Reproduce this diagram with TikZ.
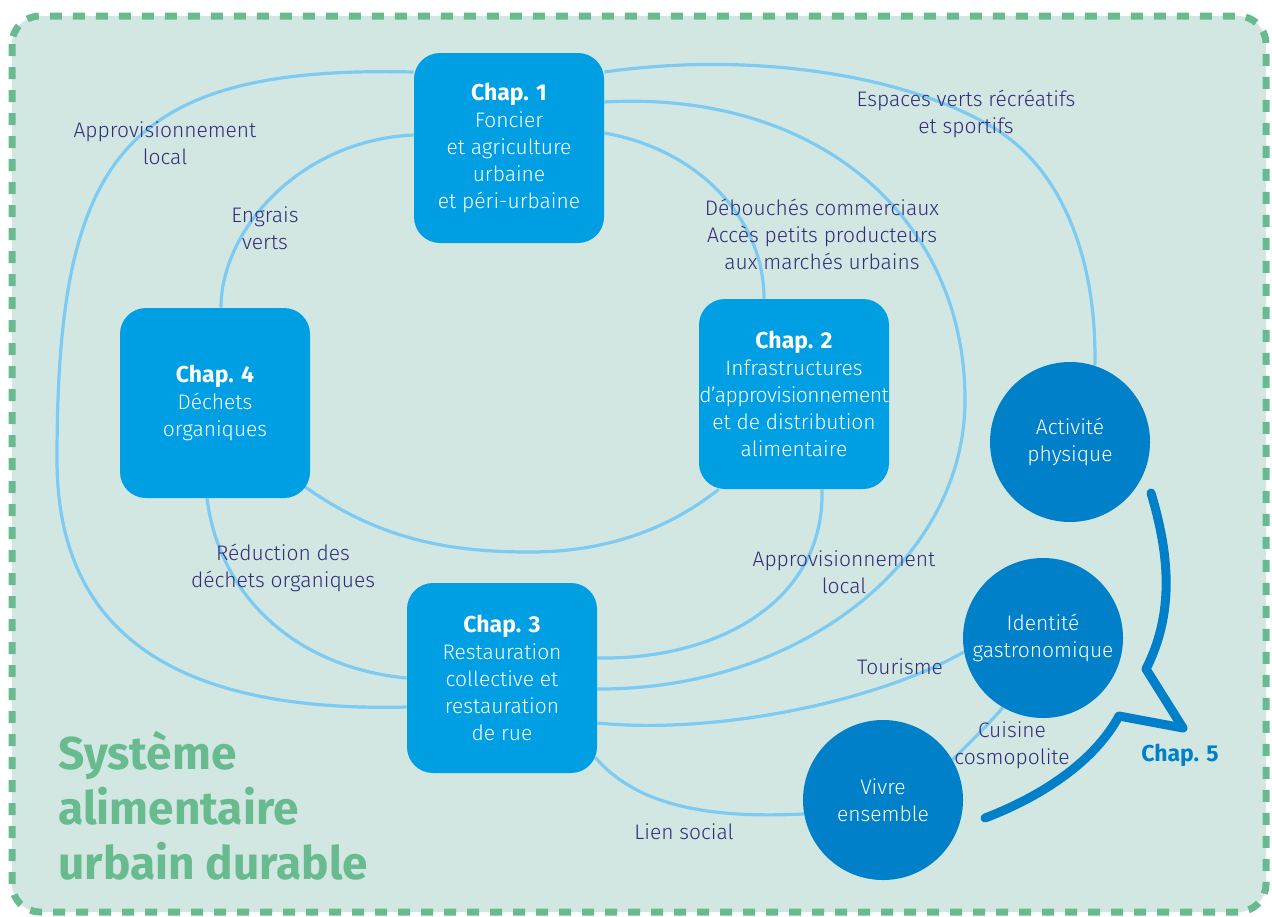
\documentclass[tikz,border=0pt]{standalone}
\usepackage{fontspec}
\setmainfont{Fira Sans Light}[BoldFont={Fira Sans Bold}]
\usetikzlibrary{calc}
\definecolor{fond}{RGB}{210,231,225}
\definecolor{cadre}{RGB}{103,187,143}
\definecolor{boite}{RGB}{0,159,227}
\definecolor{rond}{RGB}{0,128,201}
\definecolor{lien}{RGB}{125,203,242}
\definecolor{texte}{RGB}{51,44,124}
\pgfdeclarelayer{back}
\pgfdeclarelayer{wires}
\pgfsetlayers{back,wires,main}
\newcommand{\chaptitle}[1]{{\fontsize{11.5}{13.5}\selectfont\bfseries #1}}

\begin{document}
\begin{tikzpicture}[x=0.5pt, y=-0.5pt,
	chap/.style={rectangle, rounded corners=13pt, fill=boite, text=white, minimum width=95pt, minimum height=95pt, inner sep=0pt, align=center, font=\fontsize{10.5}{13.5}\selectfont},
	theme/.style={circle, fill=rond, text=white, minimum size=80pt, inner sep=0pt, align=center, font=\fontsize{10.5}{13.5}\selectfont},
	wire/.style={draw=lien, line width=1.6pt},
	lbl/.style={text=texte, align=center, font=\fontsize{10.5}{13.5}\selectfont}]
	\useasboundingbox (0,0) rectangle (1272,916);
	\begin{pgfonlayer}{back}
		\draw [draw=cadre, fill=fond, line width=3.5pt, dash pattern=on 6pt off 5.5pt, rounded corners=14pt] (12,16) rectangle (1266,912);
	\end{pgfonlayer}
	\node [chap] (c1) at (509,148) {\chaptitle{Chap. 1}\\Foncier\\et agriculture\\urbaine\\et péri-urbaine};
	\node [chap] (c2) at (794,394) {\chaptitle{Chap. 2}\\Infrastructures\\{\addfontfeature{LetterSpace=-2.5}d’approvisionnement}\\et de distribution\\alimentaire};
	\node [chap] (c3) at (502,678) {\chaptitle{Chap. 3}\\Restauration\\collective et\\restauration\\de rue};
	\node [chap] (c4) at (215,403) {\chaptitle{Chap. 4}\\Déchets\\organiques};
	\node [theme] (a1) at (1070,442) {Activité\\physique};
	\node [theme] (a2) at (1043,638) {Identité\\gastronomique};
	\node [theme] (a3) at (883,800) {Vivre\\ensemble};
	\begin{pgfonlayer}{wires}
		\draw [wire] ($(c1.west)+(0,-76)$) .. controls (120,65) and (57,160) .. (57,460) .. controls (57,650) and (200,712) .. ($(c3.west)+(0,29)$);
		\draw [wire] ($(c1.west)+(0,-13)$) .. controls (300,140) and (221,230) .. ($(c4.north)+(6,0)$);
		\draw [wire] ($(c4.south east)+(-6,-12)$) .. controls (380,540) and (450,552) .. (530,552) .. controls (620,552) and (680,520) .. ($(c2.south west)+(20,0)$);
		\draw [wire] ($(c4.south)+(-8,0)$) .. controls (220,600) and (300,668) .. (c3.west);
		\draw [wire] ($(c1.east)+(0,-76)$) .. controls (760,50) and (915,78) .. (997,130) .. controls (1068,175) and (1097,270) .. (a1.72);
		\draw [wire] ($(c1.east)+(0,-46)$) .. controls (820,90) and (965,220) .. (965,400) .. controls (965,560) and (800,690) .. ($(c3.east)+(0,11)$);
		\draw [wire] ($(c1.east)+(0,-15)$) .. controls (700,150) and (764,220) .. ($(c2.north)+(-30,0)$);
		\draw [wire] ($(c2.south)+(28,0)$) .. controls (825,600) and (720,660) .. ($(c3.east)+(0,-20)$);
		\draw [wire] ($(c3.east)+(0,45)$) .. controls (720,735) and (880,700) .. (a2.190);
		\draw [wire] ($(c3.south east)+(-2,-16)$) .. controls (640,810) and (720,818) .. (a3.190);
		\draw [wire] (a2.240) .. controls (985,728) and (970,742) .. (a3.30);
	\end{pgfonlayer}
	\node [lbl] (appro1) at (165,143) {Approvisionnement\\local};
	\node [lbl] (engrais) at (265,228) {Engrais\\verts};
	\node [lbl] (espaces) at (966,114) {Espaces verts récréatifs\\et sportifs};
	\node [lbl] (debouches) at (822,234) {Débouchés commerciaux\\Accès petits producteurs\\aux marchés urbains};
	\node [lbl] (reduction) at (283,568) {Réduction des\\déchets organiques};
	\node [lbl] (appro2) at (844,572) {Approvisionnement\\local};
	\node [lbl] (tourisme) at (900,667) {Tourisme};
	\node [lbl] (cuisine) at (1012,745) {Cuisine\\cosmopolite};
	\node [lbl] (lien) at (684,832) {Lien social};
	\draw [rond, line width=4.5pt, line cap=round, line join=round] (1151,493) .. controls (1168,550) and (1176,610) .. (1146,669) -- (1183,728) -- (1119,716) .. controls (1095,760) and (1045,795) .. (985,818);
	\node [text=rond, font=\fontsize{11.5}{13.5}\selectfont\bfseries] (chap5) at (1180,755) {Chap. 5};
	\node [anchor=west, inner sep=0pt, text=cadre, align=left, font=\fontsize{23}{27.5}\selectfont\bfseries] (titre) at (58,806) {Système\\alimentaire\\urbain durable};
\end{tikzpicture}
\end{document}
